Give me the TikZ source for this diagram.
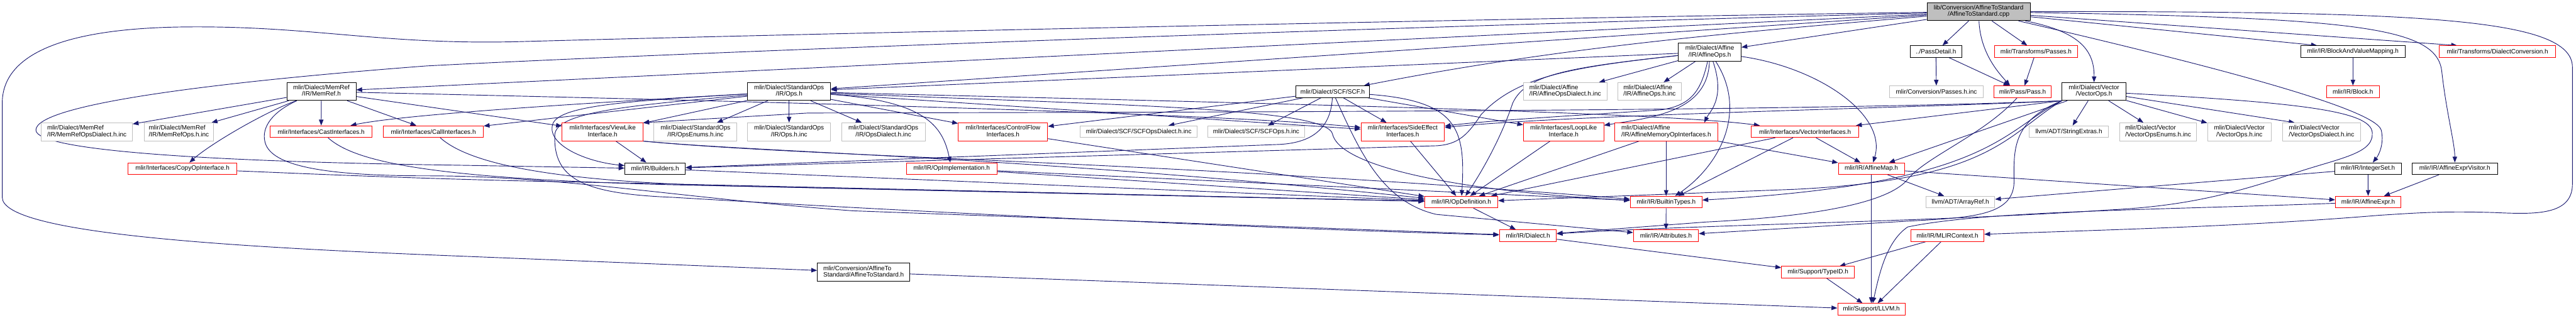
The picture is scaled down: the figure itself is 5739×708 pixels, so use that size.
\documentclass[tikz,border=0pt]{standalone}
\usepackage{fontspec}
\setmainfont{Liberation Sans}
\usetikzlibrary{arrows.meta}
\definecolor{eblue}{HTML}{191970}
\definecolor{tred}{HTML}{FF0000}
\definecolor{ugray}{HTML}{BFBFBF}
\pgfdeclarelayer{edgelayer}
\pgfsetlayers{edgelayer,main}
\newcommand\twol[2]{\begin{tabular}{@{}c@{}}#1\hfill\null\\#2\end{tabular}}
\tikzset{
 nd/.style={rectangle, draw, line width=1.3pt, inner sep=0pt, fill=white, font=\fontsize{14pt}{14pt}\selectfont},
 fullnd/.style={nd, draw=black},
 truncnd/.style={nd, draw=tred},
 undocnd/.style={nd, draw=ugray},
 rootnd/.style={nd, draw=black, fill=ugray},
 hone/.style={minimum height=26pt},
 htwo/.style={minimum height=40pt},
 dep/.style={draw=eblue, line width=1.3pt, -{Triangle[length=13pt,width=10pt]}},
}
\begin{document}
\begin{tikzpicture}[x=1pt,y=-1pt]
\useasboundingbox (0,0) rectangle (5739,708);
% row 0 / 1
\node[rootnd,htwo,minimum width=230pt] (cpp) at (4408,26) {\twol{lib/Conversion/AffineToStandard}{/AffineToStandard.cpp}};
\node[fullnd,htwo,minimum width=140pt] (affops) at (3809,116) {\twol{mlir/Dialect/Affine}{/IR/AffineOps.h}};
\node[fullnd,hone,minimum width=115pt] (passdetail) at (4313,115) {../PassDetail.h};
\node[truncnd,hone,minimum width=185pt] (tpasses) at (4536,115) {mlir/Transforms/Passes.h};
\node[fullnd,hone,minimum width=233pt] (bvm) at (5242,115) {mlir/IR/BlockAndValueMapping.h};
\node[truncnd,hone,minimum width=259pt] (dconv) at (5564,115) {mlir/Transforms/DialectConversion.h};
% row 2
\node[fullnd,htwo,minimum width=154pt] (memref) at (716,204) {\twol{mlir/Dialect/MemRef}{/IR/MemRef.h}};
\node[fullnd,htwo,minimum width=185pt] (stdops) at (1758,204) {\twol{mlir/Dialect/StandardOps}{/IR/Ops.h}};
\node[fullnd,hone,minimum width=163pt] (scf) at (2969,204.5) {mlir/Dialect/SCF/SCF.h};
\node[undocnd,htwo,minimum width=187pt] (affdialinc) at (3487,204) {\twol{mlir/Dialect/Affine}{/IR/AffineOpsDialect.h.inc}};
\node[undocnd,htwo,minimum width=141pt] (affopsinc) at (3675,204) {\twol{mlir/Dialect/Affine}{/IR/AffineOps.h.inc}};
\node[undocnd,hone,minimum width=208pt] (convpassinc) at (4314,204.5) {mlir/Conversion/Passes.h.inc};
\node[truncnd,hone,minimum width=127pt] (pass) at (4506,204.5) {mlir/Pass/Pass.h};
\node[fullnd,htwo,minimum width=142pt] (vecops) at (4665,204) {\twol{mlir/Dialect/Vector}{/VectorOps.h}};
\node[truncnd,hone,minimum width=118pt] (block) at (5242,204.5) {mlir/IR/Block.h};
% row 3
\node[undocnd,htwo,minimum width=203pt] (memrefdialinc) at (193.5,294) {\twol{mlir/Dialect/MemRef}{/IR/MemRefOpsDialect.h.inc}};
\node[undocnd,htwo,minimum width=155pt] (memrefopsinc) at (398.5,294) {\twol{mlir/Dialect/MemRef}{/IR/MemRefOps.h.inc}};
\node[truncnd,hone,minimum width=227pt] (cast) at (715.5,293.5) {mlir/Interfaces/CastInterfaces.h};
\node[truncnd,hone,minimum width=223pt] (call) at (965.5,293.5) {mlir/Interfaces/CallInterfaces.h};
\node[truncnd,htwo,minimum width=180pt] (viewlike) at (1342.5,294) {\twol{mlir/Interfaces/ViewLike}{Interface.h}};
\node[undocnd,htwo,minimum width=185pt] (opsenums) at (1549.5,294) {\twol{mlir/Dialect/StandardOps}{/IR/OpsEnums.h.inc}};
\node[undocnd,htwo,minimum width=185pt] (opsinc) at (1758,294) {\twol{mlir/Dialect/StandardOps}{/IR/Ops.h.inc}};
\node[undocnd,htwo,minimum width=186pt] (opsdialinc) at (1968,294) {\twol{mlir/Dialect/StandardOps}{/IR/OpsDialect.h.inc}};
\node[truncnd,htwo,minimum width=199pt] (cflow) at (2234.5,294) {\twol{mlir/Interfaces/ControlFlow}{Interfaces.h}};
\node[undocnd,hone,minimum width=260pt] (scfdialinc) at (2537,293.5) {mlir/Dialect/SCF/SCFOpsDialect.h.inc};
\node[undocnd,hone,minimum width=215pt] (scfopsinc) at (2798.5,293.5) {mlir/Dialect/SCF/SCFOps.h.inc};
\node[truncnd,htwo,minimum width=186pt] (sideeff) at (3125,294) {\twol{mlir/Interfaces/SideEffect}{Interfaces.h}};
\node[truncnd,htwo,minimum width=179pt] (looplike) at (3483.5,294) {\twol{mlir/Interfaces/LoopLike}{Interface.h}};
\node[truncnd,htwo,minimum width=229pt] (affmem) at (3712,294) {\twol{mlir/Dialect/Affine}{/IR/AffineMemoryOpInterfaces.h}};
\node[truncnd,hone,minimum width=239pt] (vecif) at (4021.5,293.5) {mlir/Interfaces/VectorInterfaces.h};
\node[undocnd,hone,minimum width=177pt] (strext) at (4609,293.5) {llvm/ADT/StringExtras.h};
\node[undocnd,htwo,minimum width=171pt] (vecenums) at (4808,294) {\twol{mlir/Dialect/Vector}{/VectorOpsEnums.h.inc}};
\node[undocnd,htwo,minimum width=142pt] (vecopsinc) at (4989,294) {\twol{mlir/Dialect/Vector}{/VectorOps.h.inc}};
\node[undocnd,htwo,minimum width=173pt] (vecdialinc) at (5172,294) {\twol{mlir/Dialect/Vector}{/VectorOpsDialect.h.inc}};
% row 4
\node[truncnd,hone,minimum width=243pt] (copyop) at (406.5,376) {mlir/Interfaces/CopyOpInterface.h};
\node[fullnd,hone,minimum width=135pt] (builders) at (1459.5,376) {mlir/IR/Builders.h};
\node[truncnd,hone,minimum width=202pt] (opimpl) at (2120,376) {mlir/IR/OpImplementation.h};
\node[truncnd,hone,minimum width=147pt] (affmap) at (4169,376) {mlir/IR/AffineMap.h};
\node[fullnd,hone,minimum width=148pt] (intset) at (5275.5,376) {mlir/IR/IntegerSet.h};
\node[fullnd,hone,minimum width=190pt] (aevis) at (5469,376) {mlir/IR/AffineExprVisitor.h};
% row 5
\node[truncnd,hone,minimum width=163pt] (opdef) at (3255.5,450.5) {mlir/IR/OpDefinition.h};
\node[truncnd,hone,minimum width=160pt] (btypes) at (3712,450.5) {mlir/IR/BuiltinTypes.h};
\node[undocnd,hone,minimum width=153pt] (arrayref) at (4367.5,450.5) {llvm/ADT/ArrayRef.h};
\node[truncnd,hone,minimum width=146pt] (aexpr) at (5276,450.5) {mlir/IR/AffineExpr.h};
% row 6
\node[truncnd,hone,minimum width=127pt] (dialect) at (3404,525.3) {mlir/IR/Dialect.h};
\node[truncnd,hone,minimum width=145pt] (attrs) at (3711.5,525.3) {mlir/IR/Attributes.h};
\node[truncnd,hone,minimum width=163pt] (ctx) at (4338.5,525.3) {mlir/IR/MLIRContext.h};
% row 7 / 8
\node[fullnd,htwo,minimum width=206pt] (a2sh) at (1924,607) {\twol{mlir/Conversion/AffineTo}{Standard/AffineToStandard.h}};
\node[truncnd,hone,minimum width=162pt] (typeid) at (4050,607) {mlir/Support/TypeID.h};
\node[truncnd,hone,minimum width=150pt] (llvm) at (4169,689.5) {mlir/Support/LLVM.h};

\begin{pgfonlayer}{edgelayer}
% root
\draw[dep] (cpp) .. controls (3500,38) and (1800,75) .. (1150,93) .. controls (850,100) and (700,58) .. (420,60) .. controls (120,62) and (5,130) .. (5,230) -- (5,440) .. controls (5,520) and (500,550) .. (1000,570) -- (a2sh);
\draw[dep] (cpp) .. controls (3000,62) and (1500,118) .. (950,147) .. controls (450,185) and (80,235) .. (80,290) .. controls (80,335) and (450,360) .. (1000,368) -- (builders);
\draw[dep] (cpp) -- (memref);
\draw[dep] (cpp) -- (stdops);
\draw[dep] (cpp) .. controls (3900,70) and (3500,100) .. (scf);
\draw[dep] (cpp) -- (affops);
\draw[dep] (cpp) -- (passdetail);
\draw[dep] (cpp) .. controls (4412,120) and (4455,165) .. ([xshift=-28pt]pass.north);
\draw[dep] (cpp) -- (tpasses);
\draw[dep] (cpp) .. controls (4630,70) and (4666,110) .. (vecops);
\draw[dep] (cpp) -- ([xshift=-80pt]bvm.north);
\draw[dep] (cpp) -- ([xshift=-90pt]dconv.north);
\draw[dep] (cpp) .. controls (4900,140) and (5290,240) .. (5305,290) .. controls (5312,320) and (5300,345) .. (intset);
\draw[dep] (cpp) .. controls (5250,40) and (5430,60) .. (5440,160) .. controls (5450,250) and (5469,320) .. (aevis);
\draw[dep] (cpp) .. controls (5400,25) and (5731,40) .. (5731,150) -- (5731,410) .. controls (5731,480) and (5650,478) .. (5560,474) .. controls (5440,470) and (5380,475) .. (5300,480) .. controls (5000,505) and (4700,512) .. (ctx);
% a2sh
\draw[dep] (a2sh) -- (llvm);
% memref
\draw[dep] (memref) -- (memrefdialinc);
\draw[dep] (memref) -- (memrefopsinc);
\draw[dep] (memref) -- (cast);
\draw[dep] (memref) -- (call);
\draw[dep] (memref) .. controls (590,250) and (470,320) .. (copyop);
\draw[dep] (memref) -- (viewlike);
\draw[dep] (memref) .. controls (1500,222) and (2700,250) .. (sideeff);
\draw[dep] ([xshift=23pt]memref.south west) .. controls (605,250) and (583,285) .. (590,315) .. controls (600,365) and (700,392) .. (950,392) .. controls (1250,392) and (1500,440) .. (1900,470) -- (dialect);
% stdops
\draw[dep] (stdops) -- (viewlike);
\draw[dep] (stdops) -- (opsenums);
\draw[dep] (stdops) -- (opsinc);
\draw[dep] (stdops) -- (opsdialinc);
\draw[dep] (stdops) -- (call);
\draw[dep] (stdops) .. controls (1300,230) and (900,255) .. (cast);
\draw[dep] (stdops) .. controls (1400,225) and (1250,235) .. (1232,275) .. controls (1215,320) and (1300,360) .. (builders);
\draw[dep] (stdops) .. controls (2060,225) and (2100,280) .. (opimpl);
\draw[dep] (stdops) -- (cflow);
\draw[dep] (stdops) -- (sideeff);
\draw[dep] (stdops) .. controls (2800,230) and (3700,250) .. (vecif);
\draw[dep] (stdops) .. controls (1400,235) and (1240,250) .. (1236,300) .. controls (1232,400) and (1300,432) .. (1500,440) .. controls (2000,470) and (2800,510) .. (dialect);
\draw[dep] (stdops) .. controls (2500,235) and (2960,240) .. (2969,300) .. controls (2990,380) and (3300,430) .. (btypes);
% scf
\draw[dep] (scf) -- (scfdialinc);
\draw[dep] (scf) -- (scfopsinc);
\draw[dep] (scf) -- (cflow);
\draw[dep] (scf) -- (sideeff);
\draw[dep] (scf) -- (looplike);
\draw[dep] (scf) .. controls (3250,225) and (3265,290) .. (opdef);
\draw[dep] (scf) .. controls (2965,280) and (2930,318) .. (2850,322) -- (builders);
\draw[dep] (scf) .. controls (3030,340) and (3080,450) .. (3200,478) -- (attrs);
% affops
\draw[dep] (affops) -- (affdialinc);
\draw[dep] (affops) -- (affopsinc);
\draw[dep] (affops) .. controls (3845,220) and (3808,250) .. ([xshift=85pt]affmem.north);
\draw[dep] (affops) .. controls (3805,250) and (3680,262) .. (looplike);
\draw[dep] (affops) .. controls (3790,200) and (3770,235) .. (3700,245) .. controls (3500,258) and (3300,270) .. (sideeff);
\draw[dep] (affops) -- (stdops);
\draw[dep] (affops) .. controls (3500,150) and (3380,170) .. (3300,255) .. controls (3270,300) and (3250,322) .. (3200,325) -- (builders);
\draw[dep] (affops) .. controls (4050,150) and (4205,255) .. (affmap);
\draw[dep] (affops) .. controls (3895,250) and (3830,370) .. (btypes);
\draw[dep] (affops) .. controls (3500,150) and (3400,165) .. (3370,230) .. controls (3340,320) and (3290,400) .. (opdef);
% pass
\draw[dep] (passdetail) -- (convpassinc);
\draw[dep] (passdetail) -- (pass);
\draw[dep] (tpasses) -- (pass);
\draw[dep] (pass) .. controls (4420,300) and (4290,350) .. (4250,400) .. controls (4200,460) and (4000,485) .. (3800,495) -- (dialect);
% vecops
\draw[dep] (vecops) -- (strext);
\draw[dep] (vecops) -- (vecenums);
\draw[dep] (vecops) -- (vecopsinc);
\draw[dep] (vecops) -- ([xshift=-60pt]vecdialinc.north);
\draw[dep] (vecops) -- (affmap);
\draw[dep] (vecops.south west) -- (vecif);
\draw[dep] (vecops.south west) .. controls (4000,250) and (2500,250) .. (1800,252) -- (viewlike.north east);
\draw[dep] (vecops.south west) .. controls (4300,240) and (3500,255) .. (sideeff);
\draw[dep] (vecops.south west) .. controls (4460,290) and (4440,410) .. (btypes);
\draw[dep] (vecops.south west) .. controls (4480,270) and (4487,340) .. (4487,400) .. controls (4490,480) and (4400,485) .. (4250,493) -- (attrs);
\draw[dep] (vecops) .. controls (5150,230) and (5290,250) .. (5285,300) .. controls (5285,345) and (5200,355) .. (5100,390) .. controls (4950,440) and (4850,460) .. (4700,468) .. controls (4300,495) and (3800,500) .. (dialect);
\draw[dep] (vecops.south west) .. controls (4470,300) and (4440,400) .. (4000,422) -- (opdef);
% bvm
\draw[dep] (bvm) -- (block);
% interfaces etc.
\draw[dep] (viewlike) -- (builders);
\draw[dep] (viewlike.south east) .. controls (1800,350) and (2600,360) .. (btypes);
\draw[dep] (viewlike.south east) .. controls (1700,340) and (2300,350) .. (opdef);
\draw[dep] (cast) .. controls (790,360) and (950,398) .. (1500,412) -- (opdef);
\draw[dep] (call) .. controls (1040,360) and (1200,402) .. (1600,414) -- (opdef);
\draw[dep] (copyop) .. controls (700,388) and (1000,402) .. (1400,408) -- (opdef);
\draw[dep] (cflow) -- (opdef);
\draw[dep] (sideeff) -- (opdef);
\draw[dep] (looplike) -- (opdef);
\draw[dep] (affmem) -- (opdef);
\draw[dep] (affmem) -- (btypes);
\draw[dep] (affmem) -- (affmap);
\draw[dep] (vecif) -- (opdef);
\draw[dep] (vecif) -- (btypes);
\draw[dep] (vecif) -- (affmap);
\draw[dep] (builders) -- (opdef);
\draw[dep] (opimpl) -- (opdef);
\draw[dep] (opimpl) -- (btypes);
\draw[dep] (opdef) -- (dialect);
\draw[dep] (btypes) -- (attrs);
\draw[dep] (dialect) -- (typeid);
\draw[dep] (ctx) -- (typeid);
\draw[dep] (ctx) -- (llvm);
\draw[dep] (typeid) -- (llvm);
\draw[dep] (affmap) -- (arrayref);
\draw[dep] (affmap) -- (llvm);
\draw[dep] (affmap) -- (aexpr);
\draw[dep] (intset) -- (aexpr);
\draw[dep] (intset) -- (arrayref);
\draw[dep] (aevis) -- (aexpr);
\draw[dep] (aexpr) .. controls (4800,468) and (4420,470) .. (4250,506) .. controls (4200,540) and (4185,620) .. (llvm);
\end{pgfonlayer}
\end{tikzpicture}
\end{document}
